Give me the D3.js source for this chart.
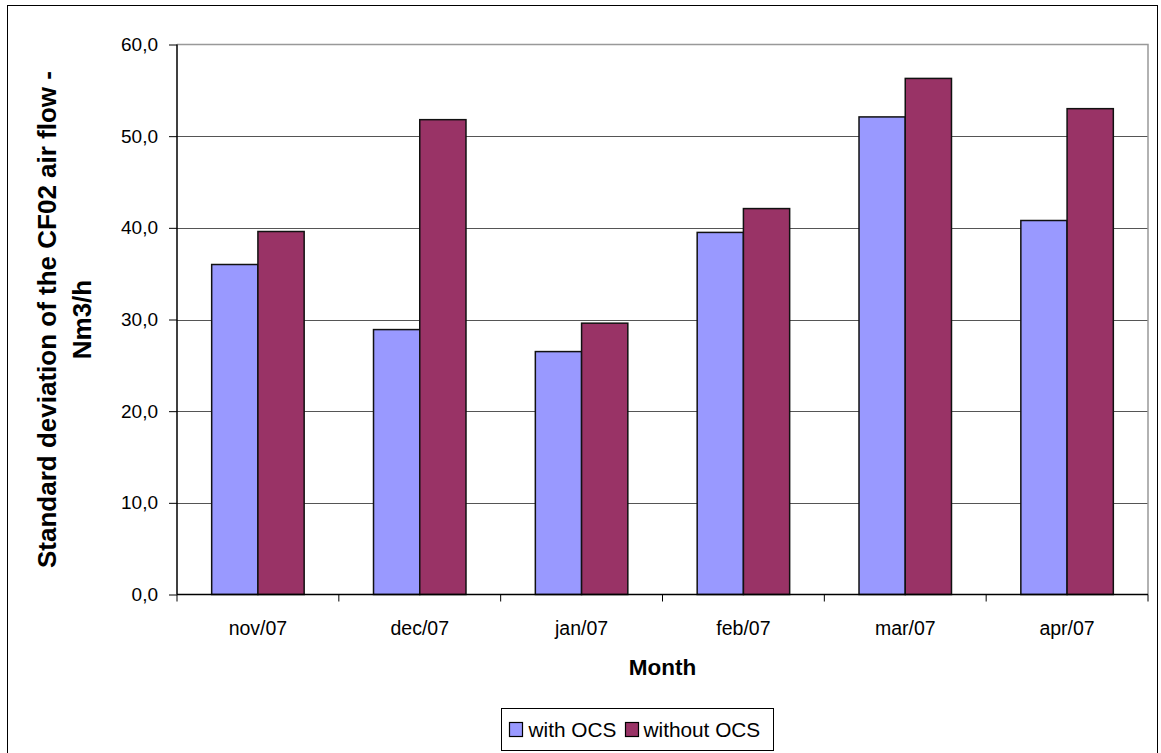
<!DOCTYPE html>
<html>
<head>
<meta charset="utf-8">
<script src="https://cdn.jsdelivr.net/npm/d3@7"></script>
<style>
  html, body { margin: 0; padding: 0; background: #fff; }
  svg { display: block; font-family: "Liberation Sans", Arial, sans-serif; }
</style>
</head>
<body>
<svg id="chart" width="1161" height="753"></svg>
<script>
// Monthly standard deviation of the CF02 air flow (Nm3/h)
const months = ["nov/07", "dec/07", "jan/07", "feb/07", "mar/07", "apr/07"];
const seriesNames = ["with OCS", "without OCS"];
const withOCS = [36.0, 28.9, 26.5, 39.5, 52.1, 40.8];
const withoutOCS = [39.6, 51.8, 29.6, 42.1, 56.3, 53.0];
const yTicks = [0, 10, 20, 30, 40, 50, 60];
const colors = ["#9999FF", "#993366"];

const svg = d3.select("#chart");
const FONT = "'Liberation Sans', Arial, sans-serif";

// outer chart frame
svg.append("rect")
  .attr("x", 7.5).attr("y", 5.5)
  .attr("width", 1150).attr("height", 760)
  .attr("fill", "#fff").attr("stroke", "#000").attr("stroke-width", 1);

const plot = { left: 177, top: 44.5, right: 1148, bottom: 594.5 };

const x0 = d3.scaleBand().domain(months).range([plot.left, plot.right]).paddingInner(0).paddingOuter(0);
// gap width of 150%: each bar = band / 3.5
const barW = x0.bandwidth() / 3.5;
const x1 = d3.scaleBand().domain(seriesNames).range([0, barW * 2]);
const y = d3.scaleLinear().domain([0, 60]).range([plot.bottom, plot.top]);

// gridlines
svg.append("g")
  .selectAll("line")
  .data(yTicks.filter(t => t > 0 && t < 60))
  .join("line")
  .attr("x1", plot.left).attr("x2", plot.right)
  .attr("y1", d => Math.round(y(d)) + 0.5).attr("y2", d => Math.round(y(d)) + 0.5)
  .attr("stroke", "#555").attr("stroke-width", 1);

// plot area frame (top/right in grey)
svg.append("path")
  .attr("d", `M${plot.left},${plot.top}H${plot.right}V${plot.bottom}`)
  .attr("fill", "none").attr("stroke", "#999").attr("stroke-width", 1.5);

// bars
const rows = months.map((m, i) => ({ month: m, values: [withOCS[i], withoutOCS[i]] }));
const groups = svg.append("g").selectAll("g")
  .data(rows).join("g")
  .attr("transform", d => `translate(${x0(d.month) + (x0.bandwidth() - barW * 2) / 2},0)`);

groups.selectAll("rect")
  .data(d => d.values.map((v, k) => ({ key: seriesNames[k], value: v, k })))
  .join("rect")
  .attr("x", d => x1(d.key))
  .attr("y", d => y(d.value))
  .attr("width", barW)
  .attr("height", d => y(0) - y(d.value))
  .attr("fill", d => colors[d.k])
  .attr("stroke", "#111").attr("stroke-width", 1.5);

// y axis
const yAxis = svg.append("g")
  .attr("transform", `translate(${plot.left},0)`)
  .call(d3.axisLeft(y).tickValues(yTicks).tickSize(8).tickPadding(11)
    .tickFormat(d => d3.format(".1f")(d).replace(".", ",")));
yAxis.attr("font-size", 19).attr("font-family", FONT);
yAxis.select(".domain").attr("stroke", "#000").attr("stroke-width", 1.5).attr("d", `M0,${plot.top}V${plot.bottom}`);
yAxis.selectAll(".tick line").attr("stroke", "#000");
yAxis.selectAll("text").attr("fill", "#000");

// x axis with ticks between categories
const xAxis = svg.append("g").attr("transform", `translate(0,${plot.bottom})`)
  .attr("font-size", 19.5).attr("font-family", FONT);
xAxis.append("line")
  .attr("x1", plot.left).attr("x2", plot.right)
  .attr("stroke", "#000").attr("stroke-width", 1.5);
xAxis.selectAll("line.tk")
  .data(months.map(m => x0(m)).concat([plot.right]))
  .join("line").attr("class", "tk")
  .attr("x1", d => d).attr("x2", d => d)
  .attr("y1", 0).attr("y2", 7)
  .attr("stroke", "#000");
xAxis.selectAll("text")
  .data(months).join("text")
  .attr("x", d => x0(d) + x0.bandwidth() / 2)
  .attr("y", 40)
  .attr("text-anchor", "middle")
  .text(d => d);

// axis titles
svg.append("text")
  .attr("x", (plot.left + plot.right) / 2).attr("y", 675)
  .attr("text-anchor", "middle")
  .attr("font-size", 22.5).attr("font-weight", "bold")
  .text("Month");

const yt = svg.append("text")
  .attr("transform", `translate(0,${(plot.top + plot.bottom) / 2}) rotate(-90)`)
  .attr("text-anchor", "middle")
  .attr("font-size", 26).attr("font-weight", "bold");
yt.append("tspan").attr("x", 0).attr("y", 56).text("Standard deviation of the CF02 air flow -");
yt.append("tspan").attr("x", 0).attr("y", 91).text("Nm3/h");

// legend
const lg = svg.append("g").attr("transform", "translate(501.5,708.5)");
lg.append("rect").attr("width", 272).attr("height", 42)
  .attr("fill", "#fff").attr("stroke", "#000").attr("stroke-width", 1);
const items = [{ name: seriesNames[0], x: 8, tx: 27 }, { name: seriesNames[1], x: 124, tx: 142 }];
items.forEach((it, k) => {
  lg.append("rect").attr("x", it.x).attr("y", 14).attr("width", 13).attr("height", 14)
    .attr("fill", colors[k]).attr("stroke", "#000").attr("stroke-width", 1.2);
  lg.append("text").attr("x", it.tx).attr("y", 28)
    .attr("font-size", 20.8).text(it.name);
});
</script>
</body>
</html>
